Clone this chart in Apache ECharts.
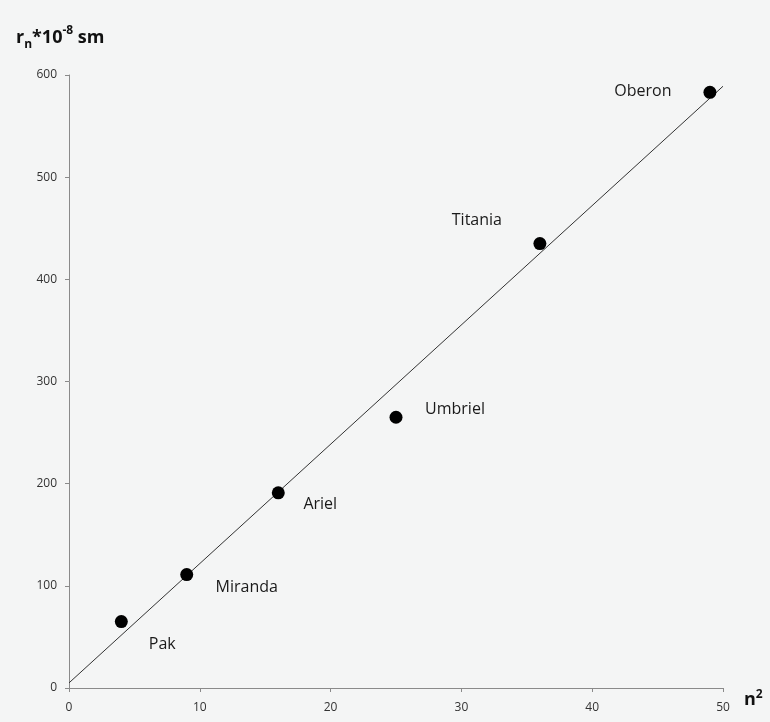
<!DOCTYPE html>
<html>
<head>
<meta charset="utf-8">
<script src="https://cdn.jsdelivr.net/npm/echarts@6/dist/echarts.min.js"></script>
<style>
  html, body { margin: 0; padding: 0; background: #f4f5f5; }
  #chart { width: 770px; height: 722px; }
</style>
</head>
<body>
<div id="chart"></div>
<script>
// satellites of Uranus: n^2 vs r_n
const moons = ["Pak", "Miranda", "Ariel", "Umbriel", "Titania", "Oberon"];
const nSquared = [4, 9, 16, 25, 36, 49];
const radius = [65, 111, 191, 265, 435, 583];
// fitted line end points
const fitX = [0, 50];
const fitY = [5, 589];
const xTicks = [0, 10, 20, 30, 40, 50];
const yTicks = [0, 100, 200, 300, 400, 500, 600];

// where each name sits relative to its dot
const labelShift = [[41, 23], [60, 13], [42, 12], [59, -8], [-63, -23], [-67, -1]];

let chart = echarts.init(document.getElementById("chart"));

const axisCommon = {
	type: "value",
	splitLine: { show: false },
	axisLine: { show: true, lineStyle: { color: "#8a8a8a", width: 1 } },
	axisTick: { show: true, length: 4, lineStyle: { color: "#8a8a8a" } },
	axisLabel: { color: "#333", fontSize: 12, fontFamily: "Open Sans" },
};

const option = {
	backgroundColor: "#f4f5f5",
	animation: false,
	grid: { left: 69, right: 47, top: 75, bottom: 34 },
	xAxis: Object.assign({}, axisCommon, {
		min: xTicks[0],
		max: xTicks[xTicks.length - 1],
		interval: xTicks[1] - xTicks[0],
		axisLabel: Object.assign({}, axisCommon.axisLabel, { margin: 14 }),
	}),
	yAxis: Object.assign({}, axisCommon, {
		min: yTicks[0],
		max: yTicks[yTicks.length - 1],
		interval: yTicks[1] - yTicks[0],
		axisLabel: Object.assign({}, axisCommon.axisLabel, { margin: 12 }),
	}),
	graphic: [
		{
			type: "text",
			left: 16,
			top: 25,
			style: {
				text: "{b|r}{s|n}{b|*10}{p|-8}{b| sm}",
				rich: {
					b: { fontSize: 18, fontWeight: "bold", fontFamily: "Open Sans", fill: "#111", verticalAlign: "middle", lineHeight: 26 },
					s: { fontSize: 12, fontWeight: "bold", fontFamily: "Open Sans", fill: "#111", verticalAlign: "bottom", lineHeight: 26 },
					p: { fontSize: 12, fontWeight: "bold", fontFamily: "Open Sans", fill: "#111", verticalAlign: "top", lineHeight: 26 },
				},
			},
		},
		{
			type: "text",
			left: 744,
			top: 689,
			style: {
				text: "{b|n}{p|2}",
				rich: {
					b: { fontSize: 18, fontWeight: "bold", fontFamily: "Open Sans", fill: "#111", verticalAlign: "middle", lineHeight: 22 },
					p: { fontSize: 12, fontWeight: "bold", fontFamily: "Open Sans", fill: "#111", verticalAlign: "top", lineHeight: 22 },
				},
			},
		},
	],
	series: [
		{
			type: "line",
			data: fitX.map((x, i) => [x, fitY[i]]),
			showSymbol: false,
			lineStyle: { color: "#333", width: 1 },
			z: 1,
		},
		{
			type: "scatter",
			symbolSize: 13,
			itemStyle: { color: "#000", opacity: 1 },
			data: moons.map((name, i) => ({
				name: name,
				value: [nSquared[i], radius[i]],
				label: {
					show: true,
					position: "inside",
					offset: labelShift[i],
					formatter: "{b}",
					color: "#1a1a1a",
					fontSize: 16,
					fontFamily: "Open Sans",
				},
			})),
			z: 2,
		},
	],
};

chart.setOption(option);
</script>
</body>
</html>
